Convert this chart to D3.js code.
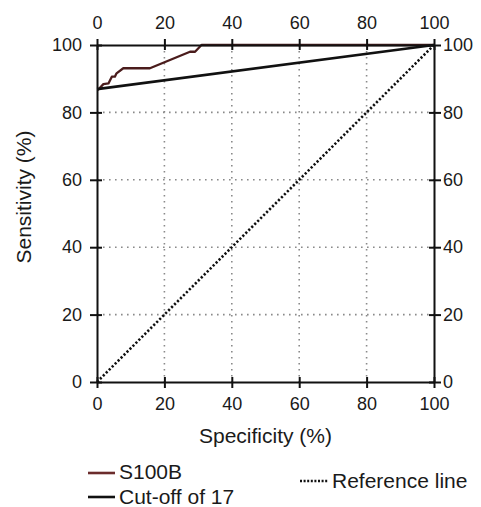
<!DOCTYPE html>
<html><head><meta charset="utf-8">
<script src="https://cdn.jsdelivr.net/npm/d3@7"></script>
<style>body{margin:0;background:#fff;} text{font-family:"Liberation Sans",Arial,sans-serif;fill:#1a1a1a;}</style>
</head><body>
<svg id="c" width="481" height="507"></svg>
<script>
const ticks = [0, 20, 40, 60, 80, 100];
const gridTicks = [20, 40, 60, 80];
const s100bX = [0, 0.4, 1.9, 3.4, 4.4, 5.3, 5.8, 7.8, 15.7, 27.6, 29.1, 31, 100];
const s100bY = [86.8, 86.8, 88.4, 88.6, 90.6, 90.6, 91.6, 93.1, 93.1, 98, 98, 100, 100];
const cutoffX = [0, 100];
const cutoffY = [86.9, 100];
const refX = [0, 100];
const refY = [0, 100];
const xTitle = "Specificity (%)";
const yTitle = "Sensitivity (%)";
const legendLabels = ["S100B", "Cut-off of 17", "Reference line"];

const svg = d3.select("#c");
const L = 97, R = 434, T = 45, B = 382;
const x = d3.scaleLinear().domain([0, 100]).range([L, R]);
const y = d3.scaleLinear().domain([0, 100]).range([B, T]);

// grid
const g = svg.append("g");
g.selectAll(".gx").data(gridTicks).enter().append("line")
  .attr("x1", d => x(d)).attr("x2", d => x(d)).attr("y1", T).attr("y2", B)
  .attr("stroke", "#8a8a8a").attr("stroke-width", 1.6).attr("stroke-dasharray", "1.6,4.4");
g.selectAll(".gy").data(gridTicks).enter().append("line")
  .attr("y1", d => y(d)).attr("y2", d => y(d)).attr("x1", L).attr("x2", R)
  .attr("stroke", "#8a8a8a").attr("stroke-width", 1.6).attr("stroke-dasharray", "1.6,4.4");

// lines
const line = d3.line().x(d => x(d[0])).y(d => y(d[1]));
svg.append("path").datum(refX.map((v, i) => [v, refY[i]])).attr("d", line)
  .attr("fill", "none").attr("stroke", "#111").attr("stroke-width", 2.6).attr("stroke-dasharray", "2.2,2");
svg.append("path").datum(s100bX.map((v, i) => [v, s100bY[i]])).attr("d", line)
  .attr("fill", "none").attr("stroke", "#4a1c1c").attr("stroke-width", 2.3).attr("stroke-linejoin", "round");
svg.append("path").datum(cutoffX.map((v, i) => [v, cutoffY[i]])).attr("d", line)
  .attr("fill", "none").attr("stroke", "#111").attr("stroke-width", 2.6);

// axes
function styleAxis(sel) {
  sel.select(".domain").attr("stroke", "#111").attr("stroke-width", 2);
  sel.selectAll(".tick line").attr("stroke", "#111").attr("stroke-width", 2);
  sel.selectAll(".tick text").style("font-size", "18px").attr("fill", "#1a1a1a");
}
const ax = [
  svg.append("g").attr("transform", `translate(0,${B})`).call(d3.axisBottom(x).tickValues(ticks).tickSizeInner(6).tickSizeOuter(0).tickPadding(9)),
  svg.append("g").attr("transform", `translate(0,${T})`).call(d3.axisTop(x).tickValues(ticks).tickSizeInner(6).tickSizeOuter(0).tickPadding(10)),
  svg.append("g").attr("transform", `translate(${L},0)`).call(d3.axisLeft(y).tickValues(ticks).tickSizeInner(7).tickSizeOuter(0).tickPadding(8)),
  svg.append("g").attr("transform", `translate(${R},0)`).call(d3.axisRight(y).tickValues(ticks).tickSizeInner(7).tickSizeOuter(0).tickPadding(2))
];
ax.forEach(styleAxis);
// ticks cross the frame
ax[0].selectAll(".tick line").attr("y1", -5);
ax[1].selectAll(".tick line").attr("y1", 5);
ax[2].selectAll(".tick line").attr("x1", 5);
ax[3].selectAll(".tick line").attr("x1", -5);

// titles
svg.append("text").attr("x", (L + R) / 2).attr("y", 443).attr("text-anchor", "middle")
  .style("font-size", "21px").text(xTitle);
svg.append("text").attr("transform", "translate(31,197) rotate(-90)").attr("text-anchor", "middle")
  .style("font-size", "21px").text(yTitle);

// legend
const leg = svg.append("g");
leg.append("line").attr("x1", 88).attr("x2", 115).attr("y1", 473).attr("y2", 473)
  .attr("stroke", "#6b2c2c").attr("stroke-width", 2.6);
leg.append("text").attr("x", 119).attr("y", 479).style("font-size", "21px").text(legendLabels[0]);
leg.append("line").attr("x1", 88).attr("x2", 115).attr("y1", 497).attr("y2", 497)
  .attr("stroke", "#111").attr("stroke-width", 2.6);
leg.append("text").attr("x", 119).attr("y", 504).style("font-size", "21px").text(legendLabels[1]);
leg.append("line").attr("x1", 300).attr("x2", 328).attr("y1", 481).attr("y2", 481)
  .attr("stroke", "#111").attr("stroke-width", 2.4).attr("stroke-dasharray", "2,1.6");
leg.append("text").attr("x", 332).attr("y", 488).style("font-size", "21px").text(legendLabels[2]);
</script>
</body></html>
